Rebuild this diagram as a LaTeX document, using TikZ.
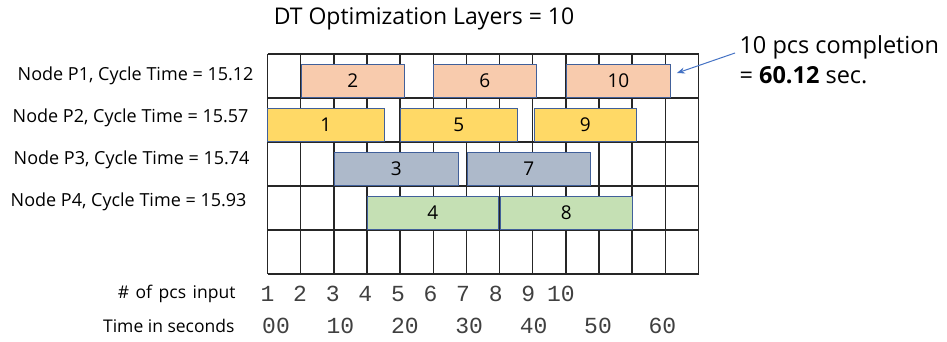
\documentclass[tikz,border=0pt]{standalone}
\usepackage{fontspec}
\setmainfont{Open Sans}
\newfontfamily\digitfont{Liberation Mono}
\usetikzlibrary{arrows.meta}
\definecolor{peach}{HTML}{F8CBAD}
\definecolor{gold}{HTML}{FFD966}
\definecolor{slate}{HTML}{ADB9CA}
\definecolor{mint}{HTML}{C5E0B4}
\definecolor{barline}{HTML}{41609A}
\definecolor{arrowblue}{HTML}{4472C4}

\begin{document}
\begin{tikzpicture}[x=1pt, y=-1pt,
    gridline/.style={line width=1.4pt, black!85},
    bar/.style={draw=barline, line width=0.8pt, anchor=south west, inner sep=0pt,
      minimum height=33pt, font=\fontsize{19}{24}\selectfont},
    rowlabel/.style={anchor=east, font=\fontsize{18}{22}\selectfont},
    axislabel/.style={anchor=east, font=\fontsize{17.5}{20}\selectfont},
    ticklabel/.style={font=\digitfont\fontsize{23}{26}\selectfont\color{black!75}}]
  \useasboundingbox (0,0) rectangle (947,341);

  \node (title) at (424,19) {\fontsize{23}{28}\selectfont DT Optimization Layers = 10};

  % grid: 13 columns of 5 s, 5 rows
  \foreach \i in {0,...,13}
    \draw[gridline] (267.5+33.15*\i,54) -- (267.5+33.15*\i,274);
  \foreach \j in {0,...,5}
    \draw[gridline] (267.5,54+44*\j) -- (698.5,54+44*\j);

  % pieces per node
  \foreach \n/\xa/\xb/\yb/\c in {2/301/404/98/peach, 6/433/536/98/peach, 10/566/670/98/peach,
      1/267/384/142/gold, 5/400/517/142/gold, 9/534/636/142/gold,
      3/334/458/186/slate, 7/467/590/186/slate,
      4/367/498/230/mint, 8/500/632/230/mint}
    \node[bar, fill=\c, minimum width=\xb-\xa] (b\n) at (\xa,\yb) {\n};

  \node[rowlabel] (p1) at (257,76) {Node P1, Cycle Time = 15.12};
  \node[rowlabel] (p2) at (252,118) {Node P2, Cycle Time = 15.57};
  \node[rowlabel] (p3) at (253,160) {Node P3, Cycle Time = 15.74};
  \node[rowlabel] (p4) at (250,202) {Node P4, Cycle Time = 15.93};

  \node[anchor=west, align=left, font=\fontsize{23.5}{30}\selectfont] (note) at (736,60)
    {10 pcs completion\\= \textbf{60.12} sec.};
  \draw[arrowblue, line width=1pt, -{Stealth[length=8pt,width=6pt]}]
    ([shift={(-1,-7)}]note.west) -- ([shift={(6,-8)}]b10.east);

  \node[axislabel] (pcs) at (239,294) {\#\hspace{2pt} of\hspace{2pt} pcs\hspace{2pt} input};
  \node[axislabel] (secs) at (238,326) {Time in seconds};
  \foreach \k in {1,...,10}
    \node[ticklabel] (pcs\k) at (267.5+32.6*\k-32.6,294) {\k};
  \foreach \t [count=\m from 0] in {00,10,20,30,40,50,60}
    \node[ticklabel] (sec\m) at (276+64.4*\m,326) {\t};
\end{tikzpicture}
\end{document}
